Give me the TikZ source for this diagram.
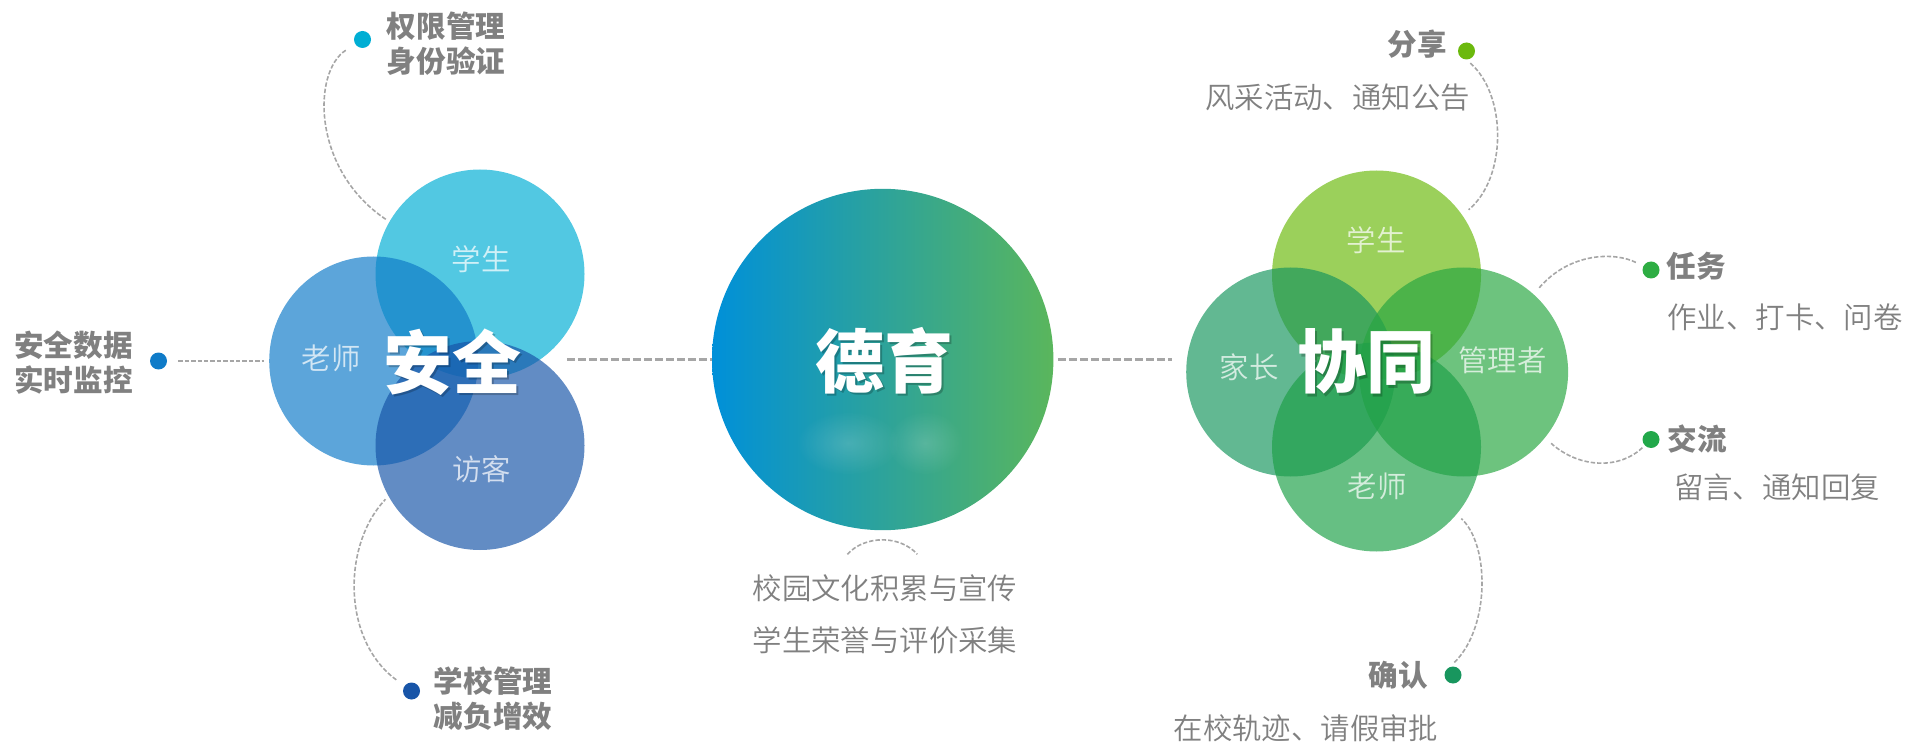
\documentclass[tikz,border=0pt]{standalone}
\usepackage{fontspec}
\setmainfont[UprightFont = * DemiLight, BoldFont = * Black]{Noto Sans CJK SC}
\usetikzlibrary{fadings}
\definecolor{lab}{HTML}{808080}
\definecolor{dashc}{HTML}{A6A6A6}
\definecolor{cA}{HTML}{00AED4}
\definecolor{cB}{HTML}{0F7BC8}
\definecolor{cC}{HTML}{1855A8}
\definecolor{cD}{HTML}{6BB90D}
\definecolor{cE}{HTML}{18965E}
\definecolor{cF}{HTML}{28A641}
\definecolor{cG}{HTML}{1EA048}
\definecolor{cH}{HTML}{2EAD43}
\definecolor{cI}{HTML}{22A84A}
\definecolor{hubl}{HTML}{0090D9}
\definecolor{hubm}{HTML}{2FA098}
\definecolor{hubr}{HTML}{5AB65C}
\tikzfading[name = blob fade, inner color = transparent!84, outer color = transparent!100]
\newcommand{\softshadow}[1]{\rlap{\kern1.2pt\raisebox{-1.2pt}{\pgfsetfillopacity{.22}\color{black}#1\pgfsetfillopacity{1}}}#1}
\tikzset {
    petal/.style = {circle, minimum size = 104.5pt, inner sep = 0pt, fill = #1, fill opacity = .68},
    hub/.style = {circle, minimum size = 170.7pt, inner sep = 0pt, left color = hubl, middle color = hubm, right color = hubr},
    dot/.style = {circle, minimum size = 8.5pt, inner sep = 0pt, fill = #1},
    title/.style = {inner sep = 0pt, white, font = \fontsize{34.5pt}{35pt}\bfseries},
    petal text/.style = {inner sep = 0pt, white, text opacity = .72, font = \fontsize{14.7pt}{17pt}\selectfont},
    note/.style = {inner sep = 0pt, lab, font = \fontsize{14.7pt}{17pt}\selectfont},
    head/.style = {inner sep = 0pt, lab, align = center, font = \fontsize{14.8pt}{17.5pt}\bfseries},
    link/.style = {dashc, line width = .8pt, dash pattern = on 2.2pt off 1pt},
    trunk/.style = {dashc, line width = 1.5pt, dash pattern = on 4pt off 1.5pt}
}
\begin{document}
\begin{tikzpicture}[x = .5pt, y = -.5pt]
    \useasboundingbox (0, 0) rectangle (1925, 753);
    % safety group
    \node (lstu) [petal = cA] at (480, 274) {};
    \node (ltea) [petal = cB] at (373.7, 361) {};
    \node (lvis) [petal = cC] at (480, 445.5) {};
    \node (lstut) [petal text] at (481, 259) {学生};
    \node (lteat) [petal text] at (331, 358) {老师};
    \node (lvist) [petal text] at (481.5, 469) {访客};
    \node (safe) [title] at (452.5, 363) {\softshadow{安全}};
    % centre
    \node (moral) [hub] at (882.7, 359.5) {};
    \fill [white, path fading = blob fade] (848, 443) ellipse (52 and 32);
    \fill [white, path fading = blob fade] (925, 443) ellipse (38 and 32);
    \node (moralt) [title] at (884, 362) {\softshadow{德育}};
    % cooperation group
    \node (rstu) [petal = cD] at (1376.5, 275) {};
    \node (rfam) [petal = cE] at (1290.7, 372) {};
    \node (rman) [petal = cF] at (1463.6, 372) {};
    \node (rtea) [petal = cG] at (1376.5, 447) {};
    \node (rstut) [petal text] at (1376, 240) {学生};
    \node (rfamt) [petal text] at (1249, 367) {家长};
    \node (rmant) [petal text] at (1502.5, 360) {管理者};
    \node (rteat) [petal text] at (1377, 486) {老师};
    \node (coop) [title] at (1366, 363) {\softshadow{协同}};
    % dots
    \node (dperm) [dot = cA] at (362.5, 39.5) {};
    \node (ddata) [dot = cB] at (158.5, 361) {};
    \node (dmgmt) [dot = cC] at (411.5, 691) {};
    \node (dshare) [dot = cD] at (1466.5, 51) {};
    \node (dtask) [dot = cH] at (1651, 270) {};
    \node (dchat) [dot = cI] at (1651, 439.5) {};
    \node (dconf) [dot = cE] at (1453, 675) {};
    % labels
    \node (hperm) [head] at (446, 44) {权限管理\\身份验证};
    \node (hdata) [head] at (73.5, 363) {安全数据\\实时监控};
    \node (hmgmt) [head] at (493, 699) {学校管理\\减负增效};
    \node (hshare) [head] at (1417, 44) {分享};
    \node (nshare) [note] at (1337.5, 97.5) {风采活动、通知公告};
    \node (htask) [head] at (1696, 266.5) {任务};
    \node (ntask) [note] at (1785, 317) {作业、打卡、问卷};
    \node (hchat) [head] at (1697.5, 439.5) {交流};
    \node (nchat) [note] at (1777, 487.5) {留言、通知回复};
    \node (hconf) [head] at (1398.5, 675) {确认};
    \node (nconf) [note] at (1306, 728) {在校轨迹、请假审批};
    \node (nmor) [note] at (885, 588) {校园文化积累与宣传};
    \node (nmos) [note] at (885, 640) {学生荣誉与评价采集};
    % connectors
    \draw [trunk, shorten <= 22.5pt] (moral.west -| safe.east) -- (moral.west);
    \draw [trunk, shorten <= 2pt, shorten >= 7pt] (moral.east) -- (moral.east -| rfam.west);
    \draw [link, shorten <= 5.5pt, shorten >= 2pt] (dperm) .. controls (312, 72) and (312, 170) .. (lstu.150);
    \draw [link, shorten <= 5.5pt, shorten >= 2.5pt] (ddata) -- (ltea.west);
    \draw [link, shorten <= 5pt, shorten >= 2pt] (dmgmt) .. controls (342, 640) and (342, 545) .. (lvis.209);
    \draw [link, shorten <= 2.5pt, shorten >= 4pt] (dshare.south) .. controls (1507, 95) and (1507, 178) .. (rstu.35);
    \draw [link, shorten <= 4pt, shorten >= 4pt] (dtask) .. controls (1615, 252) and (1570, 252) .. (rman.48);
    \draw [link, shorten <= 1.5pt, shorten >= 4pt] (dchat) .. controls (1620, 469) and (1580, 469) .. (rman.-39);
    \draw [link, shorten <= 3pt, shorten >= 3pt] (dconf.110) .. controls (1490, 628) and (1490, 545) .. (rtea.-40);
    \coordinate (arcl) at (847.3, 554.3);
    \coordinate (arcr) at (917.3, 554.3);
    \draw [link] (arcl) .. controls (865, 535) and (900, 535) .. (arcr);
\end{tikzpicture}
\end{document}
